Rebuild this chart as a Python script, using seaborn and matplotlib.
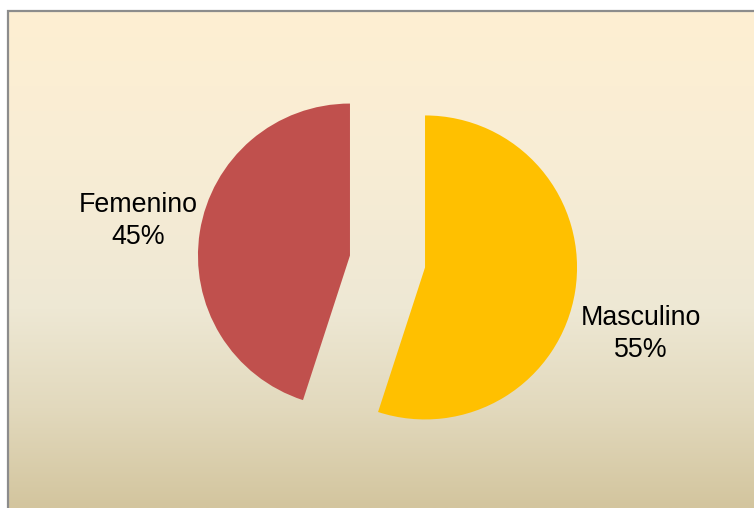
import numpy as np
import matplotlib
matplotlib.use("Agg")
import matplotlib.pyplot as plt
from matplotlib.colors import LinearSegmentedColormap
from matplotlib.patches import Rectangle
import seaborn as sns

# Distribution by sex
categories = ["Masculino", "Femenino"]
shares = [55, 45]
slice_colors = ["#FFC000", "#C0504D"]

sns.set_theme(style="white")
plt.rcParams["font.family"] = ["Liberation Sans", "DejaVu Sans"]

W, H = 754, 508
fig = plt.figure(figsize=(W / 100, H / 100), dpi=100)
fig.patch.set_facecolor("white")

# Chart area with a vertical parchment gradient
x0, ytop = 8, 11
bg = fig.add_axes([x0 / W, 0, 1 - x0 / W, 1 - ytop / H])
bg.set_axis_off()
stops = [(0.0, "#FEEFD2"), (0.3, "#F8EDD5"), (0.6, "#EEE8D4"),
         (0.8, "#E2D9BD"), (1.0, "#D3C59E")]
cmap = LinearSegmentedColormap.from_list("parchment", stops)
grad = np.linspace(0, 1, 256).reshape(-1, 1)
bg.imshow(grad, aspect="auto", cmap=cmap, extent=[0, 1, 0, 1], origin="upper")
bg.set_xlim(0, 1)
bg.set_ylim(0, 1)

# Frame line on the visible top and left edges
fig.add_artist(Rectangle((x0 / W, -0.05), 1.1, 1 - ytop / H + 0.05,
                         transform=fig.transFigure, fill=False,
                         edgecolor="#8C8C8C", linewidth=1.6, zorder=5))

# Pie drawn in pixel-like units on a transparent overlay
ax = fig.add_axes([0, 0, 1, 1])
ax.patch.set_alpha(0)

radius = 152
center = (387.5, H - 261.5)
explode_frac = 0.25
wedges, _ = ax.pie(shares, colors=slice_colors, startangle=90,
                   counterclock=False, radius=radius, center=center,
                   explode=[explode_frac * radius] * len(shares), frame=True,
                   wedgeprops=dict(linewidth=0))
ax.set_xlim(0, W)
ax.set_ylim(0, H)
ax.set_axis_off()

# Category labels with percentages
label_pos = {"Masculino": (641, H - 334), "Femenino": (138, H - 221)}
for name, val in zip(categories, shares):
    x, y = label_pos[name]
    ax.text(x, y, f"{name}\n{val}%", ha="center", va="center",
            fontsize=19.3, color="black", linespacing=1.28)

fig.savefig("out.png", dpi=100)
